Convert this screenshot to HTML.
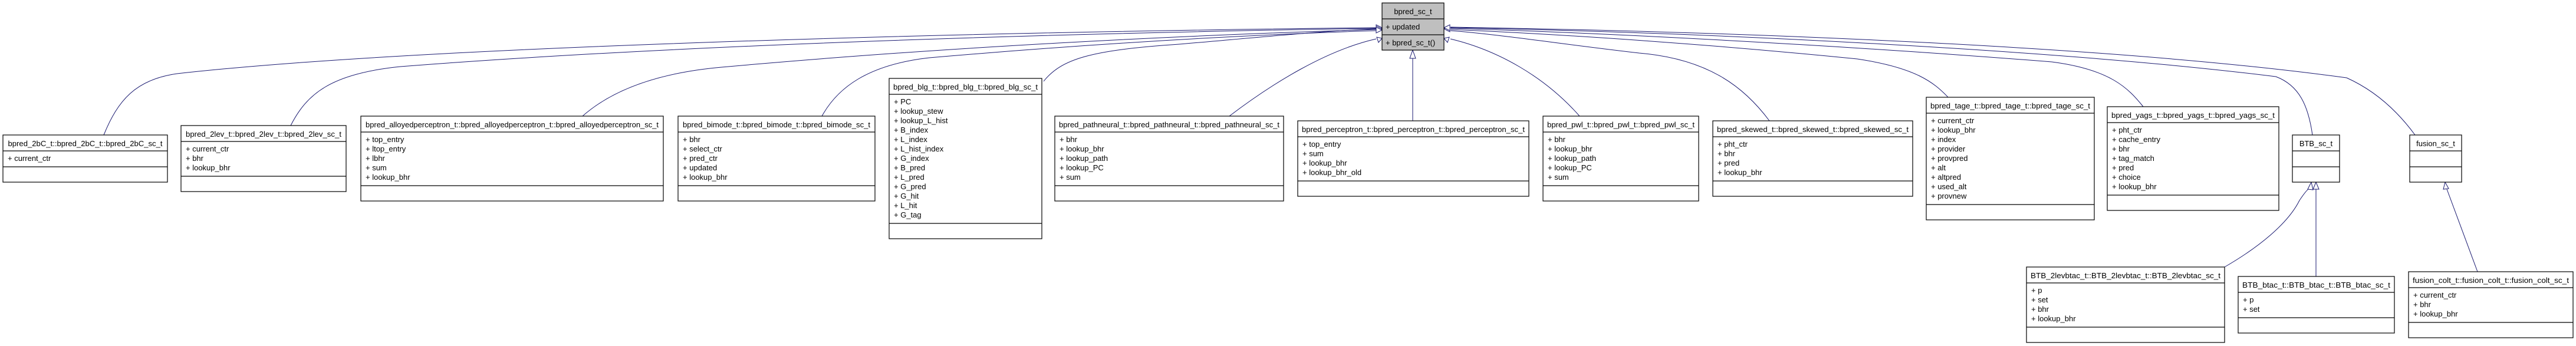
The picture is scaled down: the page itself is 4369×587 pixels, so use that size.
<!DOCTYPE html>
<html><head><meta charset="utf-8"><style>
html,body{margin:0;padding:0;background:#fff;}
svg{display:block}
text{font-family:"Liberation Sans",Arial,sans-serif;font-size:13px;fill:#000}
.b{fill:#fff;stroke:#000;stroke-width:1.2}
.g{fill:#bfbfbf;stroke:#000;stroke-width:1.2}
.l{stroke:#000;stroke-width:1.2}
.e{fill:none;stroke:#191970;stroke-width:1}
.a{fill:#fff;stroke:#191970;stroke-width:1}
</style></head><body>
<svg width="4369" height="587" viewBox="0 0 4369 587" xmlns="http://www.w3.org/2000/svg">
<!-- edges -->
<path class="e" d="M176,229 C200,170 230,135 300,125 C700,80 1600,55 2334,47"/>
<path class="e" d="M493,213 C520,160 560,125 679,113 C1100,80 1700,58 2334,48"/>
<path class="e" d="M988,197 C1030,160 1100,125 1224,114 C1600,80 2000,60 2334,50"/>
<path class="e" d="M1394,197 C1420,150 1470,110 1576,98 C1900,70 2150,58 2334,52"/>
<path class="e" d="M1770,138 C1800,100 1850,85 2000,75 C2150,62 2250,52 2334,49"/>
<path class="e" d="M2085,197 C2160,140 2250,85 2334,66"/>
<path class="e" d="M2396,205 L2396,99"/>
<path class="e" d="M2679,197 C2620,130 2540,85 2460,66"/>
<path class="e" d="M3001,205 C2960,150 2900,100 2780,90 C2650,75 2540,58 2460,52"/>
<path class="e" d="M3304,165 C3280,140 3250,115 3150,100 C2900,75 2650,58 2460,50"/>
<path class="e" d="M3635,181 C3610,150 3580,118 3480,105 C3100,75 2700,55 2460,48"/>
<path class="e" d="M3922,229 C3915,180 3900,145 3860,130 C3500,85 2900,55 2460,47"/>
<path class="e" d="M4096,229 C4060,180 4020,150 3980,132 C3600,80 3000,55 2460,46"/>
<path class="e" d="M3773,453 C3830,420 3880,380 3900,340 C3910,325 3915,320 3917,320"/>
<path class="e" d="M3928,469 L3928,321"/>
<path class="e" d="M4202,461 L4150,321"/>
<!-- arrowheads -->
<polygon class="a" points="2344,47 2334,42 2334,52"/>
<polygon class="a" points="2344,49 2334,44 2334,54"/>
<polygon class="a" points="2344,51 2334,46 2334,56"/>
<polygon class="a" points="2344,65 2335,63 2338,72"/>
<polygon class="a" points="2396,85 2391,99 2401,99"/>
<polygon class="a" points="2449,65 2458,63 2455,72"/>
<polygon class="a" points="2449,49 2459,44 2459,54"/>
<polygon class="a" points="2449,47 2459,42 2459,52"/>
<polygon class="a" points="3920,309 3914,321 3923,322"/>
<polygon class="a" points="3928,309 3923,321 3933,321"/>
<polygon class="a" points="4147,309 4144,321 4153,320"/>

<!-- top box -->
<rect class="g" x="2344" y="5" width="105" height="80"/>
<line class="l" x1="2344" y1="32" x2="2449" y2="32"/><line class="l" x1="2344" y1="59" x2="2449" y2="59"/>
<text x="2396.5" y="24" text-anchor="middle">bpred_sc_t</text>
<text x="2350" y="50">+ updated</text>
<text x="2350" y="77">+ bpred_sc_t()</text>

<!-- 2bC -->
<rect class="b" x="5" y="229" width="279" height="80"/>
<line class="l" x1="5" y1="256" x2="284" y2="256"/><line class="l" x1="5" y1="283" x2="284" y2="283"/>
<text x="144.5" y="248" text-anchor="middle" textLength="262" lengthAdjust="spacingAndGlyphs">bpred_2bC_t::bpred_2bC_t::bpred_2bC_sc_t</text>
<text x="13" y="273">+ current_ctr</text>

<!-- 2lev -->
<rect class="b" x="307" y="213" width="280" height="112"/>
<line class="l" x1="307" y1="240" x2="587" y2="240"/><line class="l" x1="307" y1="299" x2="587" y2="299"/>
<text x="447" y="232" text-anchor="middle" textLength="264" lengthAdjust="spacingAndGlyphs">bpred_2lev_t::bpred_2lev_t::bpred_2lev_sc_t</text>
<text x="315" y="257">+ current_ctr</text><text x="315" y="273">+ bhr</text><text x="315" y="289">+ lookup_bhr</text>

<!-- alloyed -->
<rect class="b" x="612" y="197" width="513" height="144"/>
<line class="l" x1="612" y1="224" x2="1125" y2="224"/><line class="l" x1="612" y1="315" x2="1125" y2="315"/>
<text x="868.5" y="216" text-anchor="middle" textLength="497" lengthAdjust="spacingAndGlyphs">bpred_alloyedperceptron_t::bpred_alloyedperceptron_t::bpred_alloyedperceptron_sc_t</text>
<text x="620" y="241">+ top_entry</text><text x="620" y="257">+ ltop_entry</text><text x="620" y="273">+ lbhr</text><text x="620" y="289">+ sum</text><text x="620" y="305">+ lookup_bhr</text>

<!-- bimode -->
<rect class="b" x="1150" y="197" width="334" height="144"/>
<line class="l" x1="1150" y1="224" x2="1484" y2="224"/><line class="l" x1="1150" y1="315" x2="1484" y2="315"/>
<text x="1317" y="216" text-anchor="middle" textLength="318" lengthAdjust="spacingAndGlyphs">bpred_bimode_t::bpred_bimode_t::bpred_bimode_sc_t</text>
<text x="1158" y="241">+ bhr</text><text x="1158" y="257">+ select_ctr</text><text x="1158" y="273">+ pred_ctr</text><text x="1158" y="289">+ updated</text><text x="1158" y="305">+ lookup_bhr</text>

<!-- blg -->
<rect class="b" x="1508" y="133" width="259" height="272"/>
<line class="l" x1="1508" y1="160" x2="1767" y2="160"/><line class="l" x1="1508" y1="379" x2="1767" y2="379"/>
<text x="1637.5" y="152" text-anchor="middle" textLength="245" lengthAdjust="spacingAndGlyphs">bpred_blg_t::bpred_blg_t::bpred_blg_sc_t</text>
<text x="1516" y="177">+ PC</text><text x="1516" y="193">+ lookup_stew</text><text x="1516" y="209">+ lookup_L_hist</text><text x="1516" y="225">+ B_index</text><text x="1516" y="241">+ L_index</text><text x="1516" y="257">+ L_hist_index</text><text x="1516" y="273">+ G_index</text><text x="1516" y="289">+ B_pred</text><text x="1516" y="305">+ L_pred</text><text x="1516" y="321">+ G_pred</text><text x="1516" y="337">+ G_hit</text><text x="1516" y="353">+ L_hit</text><text x="1516" y="369">+ G_tag</text>

<!-- pathneural -->
<rect class="b" x="1789" y="197" width="388" height="144"/>
<line class="l" x1="1789" y1="224" x2="2177" y2="224"/><line class="l" x1="1789" y1="315" x2="2177" y2="315"/>
<text x="1983" y="216" text-anchor="middle" textLength="374" lengthAdjust="spacingAndGlyphs">bpred_pathneural_t::bpred_pathneural_t::bpred_pathneural_sc_t</text>
<text x="1797" y="241">+ bhr</text><text x="1797" y="257">+ lookup_bhr</text><text x="1797" y="273">+ lookup_path</text><text x="1797" y="289">+ lookup_PC</text><text x="1797" y="305">+ sum</text>

<!-- perceptron -->
<rect class="b" x="2201" y="205" width="392" height="128"/>
<line class="l" x1="2201" y1="232" x2="2593" y2="232"/><line class="l" x1="2201" y1="307" x2="2593" y2="307"/>
<text x="2397" y="224" text-anchor="middle" textLength="378" lengthAdjust="spacingAndGlyphs">bpred_perceptron_t::bpred_perceptron_t::bpred_perceptron_sc_t</text>
<text x="2209" y="249">+ top_entry</text><text x="2209" y="265">+ sum</text><text x="2209" y="281">+ lookup_bhr</text><text x="2209" y="297">+ lookup_bhr_old</text>

<!-- pwl -->
<rect class="b" x="2617" y="197" width="264" height="144"/>
<line class="l" x1="2617" y1="224" x2="2881" y2="224"/><line class="l" x1="2617" y1="315" x2="2881" y2="315"/>
<text x="2749" y="216" text-anchor="middle" textLength="250" lengthAdjust="spacingAndGlyphs">bpred_pwl_t::bpred_pwl_t::bpred_pwl_sc_t</text>
<text x="2625" y="241">+ bhr</text><text x="2625" y="257">+ lookup_bhr</text><text x="2625" y="273">+ lookup_path</text><text x="2625" y="289">+ lookup_PC</text><text x="2625" y="305">+ sum</text>

<!-- skewed -->
<rect class="b" x="2905" y="205" width="339" height="128"/>
<line class="l" x1="2905" y1="232" x2="3244" y2="232"/><line class="l" x1="2905" y1="307" x2="3244" y2="307"/>
<text x="3074.5" y="224" text-anchor="middle" textLength="325" lengthAdjust="spacingAndGlyphs">bpred_skewed_t::bpred_skewed_t::bpred_skewed_sc_t</text>
<text x="2913" y="249">+ pht_ctr</text><text x="2913" y="265">+ bhr</text><text x="2913" y="281">+ pred</text><text x="2913" y="297">+ lookup_bhr</text>

<!-- tage -->
<rect class="b" x="3267" y="165" width="285" height="208"/>
<line class="l" x1="3267" y1="192" x2="3552" y2="192"/><line class="l" x1="3267" y1="347" x2="3552" y2="347"/>
<text x="3409.5" y="184" text-anchor="middle" textLength="271" lengthAdjust="spacingAndGlyphs">bpred_tage_t::bpred_tage_t::bpred_tage_sc_t</text>
<text x="3275" y="209">+ current_ctr</text><text x="3275" y="225">+ lookup_bhr</text><text x="3275" y="241">+ index</text><text x="3275" y="257">+ provider</text><text x="3275" y="273">+ provpred</text><text x="3275" y="289">+ alt</text><text x="3275" y="305">+ altpred</text><text x="3275" y="321">+ used_alt</text><text x="3275" y="337">+ provnew</text>

<!-- yags -->
<rect class="b" x="3574" y="181" width="291" height="176"/>
<line class="l" x1="3574" y1="208" x2="3865" y2="208"/><line class="l" x1="3574" y1="331" x2="3865" y2="331"/>
<text x="3719.5" y="200" text-anchor="middle" textLength="277" lengthAdjust="spacingAndGlyphs">bpred_yags_t::bpred_yags_t::bpred_yags_sc_t</text>
<text x="3582" y="225">+ pht_ctr</text><text x="3582" y="241">+ cache_entry</text><text x="3582" y="257">+ bhr</text><text x="3582" y="273">+ tag_match</text><text x="3582" y="289">+ pred</text><text x="3582" y="305">+ choice</text><text x="3582" y="321">+ lookup_bhr</text>

<!-- BTB_sc_t -->
<rect class="b" x="3888" y="229" width="80" height="80"/>
<line class="l" x1="3888" y1="256" x2="3968" y2="256"/><line class="l" x1="3888" y1="283" x2="3968" y2="283"/>
<text x="3928" y="248" text-anchor="middle">BTB_sc_t</text>

<!-- fusion_sc_t -->
<rect class="b" x="4087" y="229" width="88" height="80"/>
<line class="l" x1="4087" y1="256" x2="4175" y2="256"/><line class="l" x1="4087" y1="283" x2="4175" y2="283"/>
<text x="4131" y="248" text-anchor="middle">fusion_sc_t</text>

<!-- BTB_2levbtac -->
<rect class="b" x="3437" y="453" width="336" height="128"/>
<line class="l" x1="3437" y1="480" x2="3773" y2="480"/><line class="l" x1="3437" y1="555" x2="3773" y2="555"/>
<text x="3605" y="472" text-anchor="middle" textLength="322" lengthAdjust="spacingAndGlyphs">BTB_2levbtac_t::BTB_2levbtac_t::BTB_2levbtac_sc_t</text>
<text x="3445" y="497">+ p</text><text x="3445" y="513">+ set</text><text x="3445" y="529">+ bhr</text><text x="3445" y="545">+ lookup_bhr</text>

<!-- BTB_btac -->
<rect class="b" x="3796" y="469" width="265" height="96"/>
<line class="l" x1="3796" y1="496" x2="4061" y2="496"/><line class="l" x1="3796" y1="539" x2="4061" y2="539"/>
<text x="3928.5" y="488" text-anchor="middle" textLength="251" lengthAdjust="spacingAndGlyphs">BTB_btac_t::BTB_btac_t::BTB_btac_sc_t</text>
<text x="3804" y="513">+ p</text><text x="3804" y="529">+ set</text>

<!-- fusion_colt -->
<rect class="b" x="4085" y="461" width="279" height="112"/>
<line class="l" x1="4085" y1="488" x2="4364" y2="488"/><line class="l" x1="4085" y1="547" x2="4364" y2="547"/>
<text x="4224.5" y="480" text-anchor="middle" textLength="265" lengthAdjust="spacingAndGlyphs">fusion_colt_t::fusion_colt_t::fusion_colt_sc_t</text>
<text x="4093" y="505">+ current_ctr</text><text x="4093" y="521">+ bhr</text><text x="4093" y="537">+ lookup_bhr</text>
</svg>
</body></html>
